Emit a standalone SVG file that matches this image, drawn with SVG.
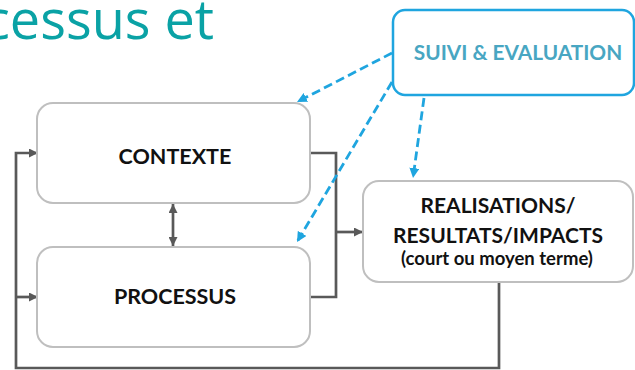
<svg xmlns="http://www.w3.org/2000/svg" width="635" height="370" viewBox="0 0 635 370">
<defs>
<style>
.box{fill:#ffffff;stroke:#bfbfbf;stroke-width:2}
.blue{fill:#ffffff;stroke:#1fa5df;stroke-width:2.5}
.lbl{font-family:Lato,"Open Sans",sans-serif;font-weight:bold;fill:#111111;text-anchor:middle}
.gl{fill:none;stroke:#595959;stroke-width:2.7}
.bl{fill:none;stroke:#1fa5df;stroke-width:2.8;stroke-dasharray:9 4.5}
</style>
<marker id="ag" viewBox="0 0 10 10" refX="10" refY="5" markerWidth="9" markerHeight="9" markerUnits="userSpaceOnUse" orient="auto-start-reverse">
<path d="M0,0 L10,5 L0,10 z" fill="#595959"/>
</marker>
<marker id="ab" viewBox="0 0 10 10" refX="10" refY="5" markerWidth="10" markerHeight="10" markerUnits="userSpaceOnUse" orient="auto">
<path d="M0,0 L10,5 L0,10 z" fill="#1fa5df"/>
</marker>
</defs>
<rect width="635" height="370" fill="#ffffff"/>
<text x="-16" y="39" font-family="'Open Sans',sans-serif" font-size="54" fill="#0aa2a5">cessus et</text>
<g id="connectors">
<path class="gl" d="M499,283 V368 H16 V153 H38" marker-end="url(#ag)"/>
<path class="gl" d="M16,297 H38" marker-end="url(#ag)"/>
<path class="gl" d="M310,153 H336 V297 H310"/>
<path class="gl" d="M336,232 H363" marker-end="url(#ag)"/>
<path class="gl" d="M173,204 V246" marker-start="url(#ag)" marker-end="url(#ag)"/>
<path class="bl" d="M392,53 L297,102" marker-end="url(#ab)"/>
<path class="bl" d="M392,82 L297,242" marker-end="url(#ab)"/>
<path class="bl" d="M424,98 L413,178" marker-end="url(#ab)"/>
</g>
<g id="contexte">
<rect class="box" x="37" y="103" width="273" height="100" rx="16"/>
<text class="lbl" x="175" y="164" font-size="21.5">CONTEXTE</text>
</g>
<g id="processus">
<rect class="box" x="37" y="247" width="273" height="100" rx="16"/>
<text class="lbl" x="175" y="304" font-size="21.5">PROCESSUS</text>
</g>
<g id="resultats">
<rect class="box" x="363" y="181" width="270" height="101" rx="16"/>
<text class="lbl" x="498" y="213" font-size="21">REALISATIONS/</text>
<text class="lbl" x="498" y="243" font-size="21">RESULTATS/IMPACTS</text>
<text class="lbl" x="497" y="265" font-size="18.5">(court ou moyen terme)</text>
</g>
<g id="suivi">
<rect class="blue" x="393" y="10" width="241" height="85" rx="12"/>
<text class="lbl" x="518" y="60" font-size="20.8" style="fill:#48a6c2">SUIVI &amp; EVALUATION</text>
</g>
</svg>
